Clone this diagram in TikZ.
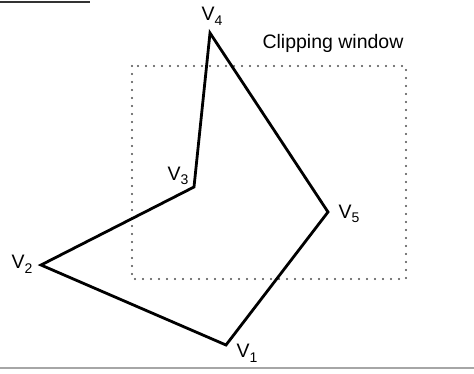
\documentclass[tikz,border=0pt]{standalone}
\usepackage{fontspec}
\setmainfont{Liberation Sans}
\newcommand{\vsub}[1]{\raisebox{-0.45ex}{\fontsize{14}{16}\selectfont #1}}
\begin{document}
\begin{tikzpicture}[x=1pt,y=-1pt,
  edge/.style={line width=2.8pt,line join=miter,line cap=round},
  clipwin/.style={line width=2.4pt,dash pattern=on 0pt off 8pt,line cap=round,black!70},
  vlabel/.style={inner sep=0pt,font=\fontsize{19.5}{22}\selectfont},
  caption/.style={inner sep=0pt,font=\fontsize{19.5}{22}\selectfont}]
\useasboundingbox (0,0) rectangle (474,373);
% scan edges
\draw[line width=2pt,black!80] (0,2) -- (90,2);
\draw[line width=1.2pt,black!35] (0,368) -- (474,368);
% clipping window
\coordinate (cwa) at (132,66);
\coordinate (cwb) at (406,279);
\draw[clipwin] (cwa) rectangle (cwb);
\node[caption] (cap) at (333,43) {Clipping window};
% polygon vertices
\coordinate (v1) at (226,345);
\coordinate (v2) at (41,265);
\coordinate (v3) at (194,187);
\coordinate (v4) at (210,33);
\coordinate (v5) at (328,212);
\draw[edge] (v1) -- (v2) -- (v3) -- (v4) -- (v5) -- cycle;
% labels
\node[vlabel] (l4) at (212,16) {V\vsub{4}};
\node[vlabel] (l3) at (178,176) {V\vsub{3}};
\node[vlabel] (l2) at (22,264) {V\vsub{2}};
\node[vlabel] (l1) at (247,353) {V\vsub{1}};
\node[vlabel] (l5) at (349,214) {V\vsub{5}};
\end{tikzpicture}
\end{document}
